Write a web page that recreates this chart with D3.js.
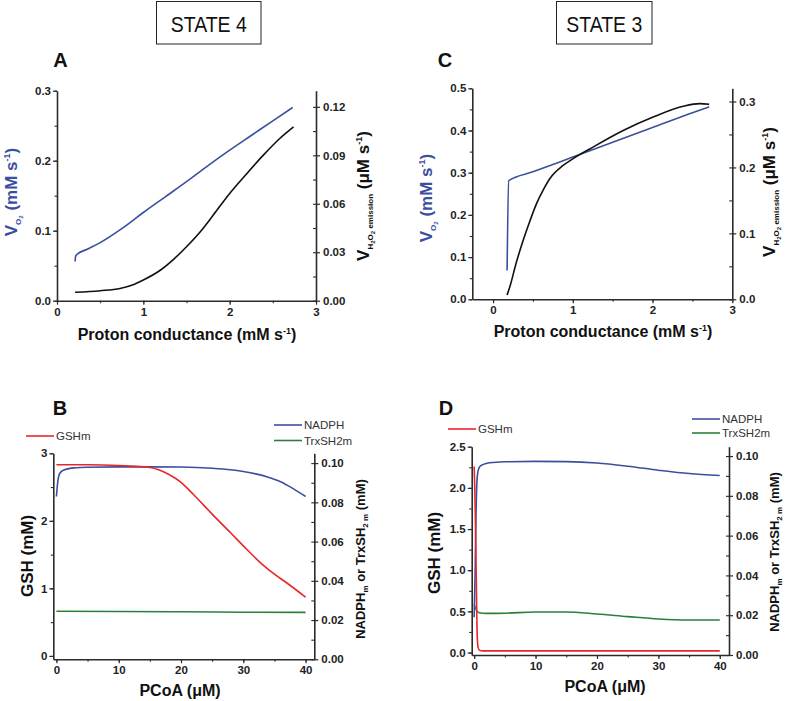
<!DOCTYPE html>
<html><head><meta charset="utf-8">
<script src="https://cdn.jsdelivr.net/npm/d3@7"></script>
<style>
body{margin:0;background:#fff}
svg{display:block}
text{font-family:"Liberation Sans",Arial,sans-serif}
</style>
</head><body>
<svg id="c" width="786" height="701"></svg>
<script>
// ---------------- DATA ----------------
// Panel A (State 4): proton conductance vs VO2 and H2O2 emission
const aVO2_x  = [0.21,0.215,0.23,0.35,0.5,0.75,1.0,1.25,1.5,1.75,2.0,2.25,2.5,2.73];
const aVO2_y  = [0.056,0.063,0.066,0.0735,0.083,0.103,0.126,0.148,0.170,0.193,0.215,0.236,0.257,0.276];
const aH2O2_x = [0.21,0.5,0.73,0.89,1.0,1.2,1.35,1.5,1.66,1.81,2.0,2.2,2.39,2.58,2.74];
const aH2O2_y = [0.0052,0.0062,0.0076,0.0101,0.0128,0.0190,0.0256,0.0334,0.0427,0.0530,0.0664,0.0788,0.0901,0.1004,0.1076];
// Panel C (State 3)
const cVO2_x  = [0.176,0.197,0.5,1.0,1.5,2.0,2.5,2.71];
const cVO2_y  = [0.068,0.281,0.302,0.337,0.372,0.407,0.442,0.456];
const cH2O2_x = [0.176,0.209,0.29,0.377,0.46,0.544,0.63,0.711,0.879,1.0,1.213,1.632,2.0,2.385,2.594,2.71];
const cH2O2_y = [0.0066,0.0182,0.055,0.0891,0.118,0.1448,0.166,0.1828,0.203,0.213,0.228,0.256,0.276,0.2927,0.2967,0.2957];
// Panel B (State 4): PCoA vs GSH, NADPH, TrxSH2
const bGSH_x   = [0,5,10,12,15,18,20,22,25,28,30,33,35,37,40];
const bGSH_y   = [2.83,2.83,2.82,2.81,2.79,2.69,2.57,2.39,2.10,1.82,1.63,1.36,1.21,1.08,0.87];
const bNADPH_x = [0,0.2,0.5,1,2,3,5,10,15,20,25,28,30,32,34,36,38,40];
const bNADPH_y = [0.083,0.090,0.0945,0.0962,0.0972,0.0976,0.0979,0.0981,0.0981,0.0980,0.0974,0.0966,0.0957,0.0945,0.0928,0.0905,0.0870,0.0830];
const bTrx_x   = [0,10,20,30,40];
const bTrx_y   = [0.0245,0.0244,0.0242,0.0240,0.0239];
// Panel D (State 3)
const dGSH_x   = [0,0.1,0.25,0.4,0.5,0.65,0.9,1.5,10,20,30,40];
const dGSH_y   = [2.26,2.0,1.4,0.6,0.2,0.06,0.025,0.02,0.02,0.02,0.02,0.02];
const dNADPH_x = [0,0.15,0.3,0.45,0.6,0.9,1.5,2.5,5,10,15,20,25,30,35,40];
const dNADPH_y = [0.019,0.040,0.070,0.087,0.092,0.0946,0.0958,0.0966,0.0971,0.0973,0.0972,0.0965,0.0949,0.0929,0.0912,0.0902];
const dTrx_x   = [0,0.3,0.8,2,5,10,15,20,25,30,35,40];
const dTrx_y   = [0.0253,0.0230,0.0212,0.0209,0.0210,0.0216,0.0216,0.0206,0.0193,0.0181,0.0176,0.0176];

const stateLabels = ["STATE 4","STATE 3"];
const panelLetters = ["A","B","C","D"];
const legendNames = ["GSHm","NADPH","TrxSH2m"];

// ---------------- DRAWING ----------------
const svg = d3.select('#c');
const BLUE = '#3b4f9f', RED = '#e8262b', GREEN = '#2b8039', AX = '#2b2b2b';

function rich(g, x, y, parts, opts) {
  const t = g.append('text')
    .attr('text-anchor', 'middle')
    .attr('fill', opts.color || '#111')
    .attr('transform', `translate(${x},${y})` + (opts.rot ? ' rotate(-90)' : ''));
  let prev = 0;
  parts.forEach(p => {
    const sh = p.sh || 0;
    t.append('tspan').text(p.t)
      .attr('font-size', p.s)
      .attr('font-weight', p.w || 'bold')
      .attr('dy', sh - prev);
    prev = sh;
  });
  return t;
}

function ticksBetween(a, b, step) {
  const out = [];
  const n0 = Math.ceil(a / step - 1e-9), n1 = Math.floor(b / step + 1e-9);
  for (let i = n0; i <= n1; i++) out.push(+(i * step).toFixed(6));
  return out;
}

function panel(c) {
  const g = svg.append('g');
  const x = d3.scaleLinear().domain(c.xDom).range([c.left, c.right]);
  const yL = d3.scaleLinear().domain(c.yLDom).range([c.bottom, c.top]);
  const yR = d3.scaleLinear().domain(c.yRDom).range([c.bottom, c.top]);

  function styleAxis(sel) {
    sel.select('.domain').attr('stroke', AX).attr('stroke-width', 1.6);
    sel.selectAll('.tick line').attr('stroke', AX).attr('stroke-width', 1.2);
    sel.selectAll('.tick text').attr('font-size', 11.5).attr('font-weight', 'bold')
      .attr('fill', '#222').attr('font-family', '"Liberation Sans",Arial,sans-serif');
  }
  // minor ticks
  const minorX = ticksBetween(c.xDom[0], c.xDom[1], c.xMinor);
  g.append('g').attr('transform', `translate(0,${c.bottom})`)
    .call(d3.axisBottom(x).tickValues(minorX).tickSize(2.5).tickSizeOuter(0).tickFormat(''))
    .call(s => { s.select('.domain').remove(); s.selectAll('.tick line').attr('stroke', AX).attr('stroke-width', 1.1); });
  g.append('g').attr('transform', `translate(${c.left},0)`)
    .call(d3.axisLeft(yL).tickValues(ticksBetween(c.yLDom[0], c.yLDom[1], c.yLMinor)).tickSize(2.5).tickSizeOuter(0).tickFormat(''))
    .call(s => { s.select('.domain').remove(); s.selectAll('.tick line').attr('stroke', AX).attr('stroke-width', 1.1); });
  g.append('g').attr('transform', `translate(${c.right},0)`)
    .call(d3.axisLeft(yR).tickValues(ticksBetween(c.yRDom[0], c.yRDom[1], c.yRMinor)).tickSize(3).tickSizeOuter(0).tickFormat(''))
    .call(s => { s.select('.domain').remove(); s.selectAll('.tick line').attr('stroke', AX).attr('stroke-width', 1.1); });

  // major axes
  g.append('g').attr('transform', `translate(0,${c.bottom})`)
    .call(d3.axisBottom(x).tickValues(c.xTicks).tickSize(4).tickSizeOuter(0).tickPadding(3).tickFormat(d3.format('d')))
    .call(styleAxis);
  g.append('g').attr('transform', `translate(${c.left},0)`)
    .call(d3.axisLeft(yL).tickValues(c.yLTicks).tickSize(4).tickSizeOuter(0).tickPadding(2).tickFormat(d3.format(c.yLFmt)))
    .call(styleAxis);
  g.append('g').attr('transform', `translate(${c.right},0)`)
    .call(d3.axisRight(yR).tickValues(c.yRTicks).tickSize(4).tickSizeOuter(0).tickPadding(3).tickFormat(d3.format(c.yRFmt)))
    .call(styleAxis);

  // series
  c.series.forEach(s => {
    const ys = s.axis === 'L' ? yL : yR;
    const pts = s.x.map((v, i) => [v, s.y[i]]);
    g.append('path').datum(pts)
      .attr('fill', 'none').attr('stroke', s.color).attr('stroke-width', 1.6)
      .attr('d', d3.line().x(d => x(d[0])).y(d => ys(d[1])).curve(d3.curveMonotoneX));
  });

  // panel letter
  g.append('text').attr('x', c.letter[0]).attr('y', c.letter[1]).attr('text-anchor', 'middle')
    .attr('font-size', 20).attr('font-weight', 'bold').attr('fill', '#111').text(c.letter[2]);

  rich(g, c.xTitle[0], c.xTitle[1], c.xTitle[2], {});
  rich(g, c.lTitle[0], c.lTitle[1], c.lTitle[2], {rot: true, color: c.lColor});
  rich(g, c.rTitle[0], c.rTitle[1], c.rTitle[2], {rot: true});

  if (c.legend) {
    c.legend.forEach(l => {
      g.append('line').attr('x1', l[0]).attr('x2', l[0] + 28).attr('y1', l[1]).attr('y2', l[1])
        .attr('stroke', l[3]).attr('stroke-width', 1.6);
      g.append('text').attr('x', l[0] + 30).attr('y', l[1] + 4).attr('font-size', 11.5)
        .attr('fill', '#333').text(l[2]);
    });
  }
}

const condTitle = [{t:'Proton conductance (mM s', s:16},{t:'-1', s:9, sh:-6},{t:')', s:16, sh:0}];
const vo2Title = [{t:'V', s:17},{t:'O', s:8, sh:4},{t:'2', s:6, sh:6},{t:' (mM s', s:17, sh:0},{t:'-1', s:9, sh:-7},{t:')', s:17, sh:0}];
const h2o2Title = [{t:'V', s:17},{t:'H', s:8, sh:4},{t:'2', s:6, sh:6},{t:'O', s:8, sh:4},{t:'2', s:6, sh:6},
  {t:' emission', s:8, sh:4},{t:' (\u03bcM s', s:17, sh:0},{t:'-1', s:9, sh:-7},{t:')', s:17, sh:0}];
const pcoaTitle = [{t:'PCoA (\u03bcM)', s:16}];
const gshTitle = [{t:'GSH (mM)', s:17}];
const nadTitle = [{t:'NADPH', s:13},{t:'m', s:8, sh:3},{t:' or TrxSH', s:13, sh:0},{t:'2 m', s:8, sh:3},{t:' (mM)', s:13, sh:0}];

// A
panel({
  left:57, right:316, top:90.7, bottom:300.7,
  xDom:[0,3], yLDom:[0,0.3], yRDom:[0,0.13],
  xTicks:[0,1,2,3], xMinor:0.5, yLTicks:[0,0.1,0.2,0.3], yLMinor:0.05, yLFmt:'.1f',
  yRTicks:[0,0.03,0.06,0.09,0.12], yRMinor:0.015, yRFmt:'.2f',
  series:[{x:aVO2_x, y:aVO2_y, axis:'L', color:BLUE},{x:aH2O2_x, y:aH2O2_y, axis:'R', color:'#111'}],
  letter:[60.5, 66.5, panelLetters[0]],
  xTitle:[187, 340, condTitle], lTitle:[17, 192, vo2Title], lColor:BLUE, rTitle:[369, 196, h2o2Title]
});
// C
panel({
  left:472.3, right:732.3, top:88.3, bottom:299.3,
  xDom:[-0.26,3], yLDom:[0,0.5], yRDom:[0,0.32],
  xTicks:[0,1,2,3], xMinor:0.5, yLTicks:[0,0.1,0.2,0.3,0.4,0.5], yLMinor:0.05, yLFmt:'.1f',
  yRTicks:[0,0.1,0.2,0.3], yRMinor:0.05, yRFmt:'.1f',
  series:[{x:cVO2_x, y:cVO2_y, axis:'L', color:BLUE},{x:cH2O2_x, y:cH2O2_y, axis:'R', color:'#111'}],
  letter:[445, 66.5, panelLetters[2]],
  xTitle:[603, 337, condTitle], lTitle:[432, 198, vo2Title], lColor:BLUE, rTitle:[775, 192, h2o2Title]
});
// B
panel({
  left:53.3, right:314.3, top:453.3, bottom:659.3,
  xDom:[-0.5,41.4], yLDom:[-0.05,3], yRDom:[0,0.105],
  xTicks:[0,10,20,30,40], xMinor:5, yLTicks:[0,1,2,3], yLMinor:0.5, yLFmt:'d',
  yRTicks:[0,0.02,0.04,0.06,0.08,0.10], yRMinor:0.01, yRFmt:'.2f',
  series:[{x:bTrx_x, y:bTrx_y, axis:'R', color:GREEN},{x:bNADPH_x, y:bNADPH_y, axis:'R', color:BLUE},{x:bGSH_x, y:bGSH_y, axis:'L', color:RED}],
  letter:[60, 415, panelLetters[1]],
  xTitle:[180, 696, pcoaTitle], lTitle:[33, 556, gshTitle], lColor:'#111', rTitle:[365, 559, nadTitle],
  legend:[[26, 436, legendNames[0], RED],[274, 425, legendNames[1], BLUE],[274, 440.5, legendNames[2], GREEN]]
});
// D
panel({
  left:471.7, right:729, top:446.7, bottom:655,
  xDom:[-0.4,41.5], yLDom:[-0.03,2.5], yRDom:[0,0.1047],
  xTicks:[0,10,20,30,40], xMinor:5, yLTicks:[0,0.5,1,1.5,2,2.5], yLMinor:0.25, yLFmt:'.1f',
  yRTicks:[0,0.02,0.04,0.06,0.08,0.10], yRMinor:0.01, yRFmt:'.2f',
  series:[{x:dTrx_x, y:dTrx_y, axis:'R', color:GREEN},{x:dNADPH_x, y:dNADPH_y, axis:'R', color:BLUE},{x:dGSH_x, y:dGSH_y, axis:'L', color:RED}],
  letter:[446, 415, panelLetters[3]],
  xTitle:[605, 692, pcoaTitle], lTitle:[440, 553, gshTitle], lColor:'#111', rTitle:[779, 552, nadTitle],
  legend:[[448, 429, legendNames[0], RED],[692, 419, legendNames[1], BLUE],[692, 433, legendNames[2], GREEN]]
});

// State boxes
[[156.5, 261, stateLabels[0]], [556.5, 652, stateLabels[1]]].forEach(b => {
  svg.append('rect').attr('x', b[0]).attr('y', 1.5).attr('width', b[1] - b[0]).attr('height', 42.5)
    .attr('fill', 'none').attr('stroke', '#222').attr('stroke-width', 1);
  svg.append('text').attr('x', (b[0] + b[1]) / 2).attr('y', 31.5).attr('text-anchor', 'middle')
    .attr('font-family', 'Lato, "Open Sans", sans-serif').attr('font-size', 22.5)
    .attr('textLength', 76).attr('lengthAdjust', 'spacingAndGlyphs')
    .attr('fill', '#111').text(b[2]);
});
</script>
</body></html>
